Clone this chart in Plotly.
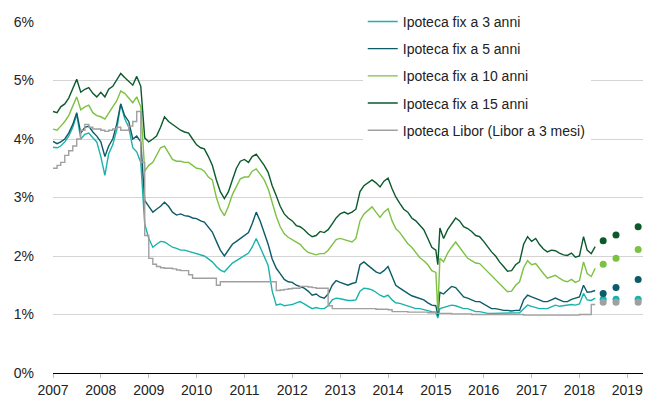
import pandas as pd
import plotly.graph_objects as go

# ---------------- data (monthly readings, plus 16 Jan 2015) ----------------
series_names = ["Ipoteca fix a 3 anni", "Ipoteca fix a 5 anni", "Ipoteca fix a 10 anni",
                "Ipoteca fix a 15 anni", "Ipoteca Libor (Libor a 3 mesi)"]

month_start = "2007-01-01"
month_end = "2018-05-01"
extra_date = "2015-01-16"

fix3 = [
    3.86, 3.85, 3.88, 3.95, 4.05, 4.20, 4.42, 4.00, 4.08, 4.10, 4.02, 3.95,
    3.70, 3.38, 3.75, 3.90, 4.15, 4.60, 4.35, 4.20, 3.85, 3.78, 3.60, 2.55,
    2.30, 2.15, 2.20, 2.25, 2.24, 2.20, 2.15, 2.13, 2.10, 2.10, 2.08, 2.07,
    2.05, 2.02, 2.00, 1.95, 1.90, 1.82, 1.76, 1.73, 1.80, 1.88, 1.92, 1.96,
    2.00, 2.05, 2.15, 2.30, 2.15, 2.00, 1.84, 1.40, 1.16, 1.18, 1.15, 1.16,
    1.17, 1.20, 1.22, 1.18, 1.14, 1.10, 1.12, 1.10, 1.10, 1.15, 1.25, 1.28,
    1.27, 1.25, 1.24, 1.24, 1.25, 1.40, 1.45, 1.44, 1.42, 1.38, 1.33, 1.30,
    1.33, 1.25, 1.20, 1.19, 1.17, 1.15, 1.12, 1.10, 1.10, 1.08, 1.06, 1.05,
    1.04, 0.94, 1.10, 1.12, 1.15, 1.16, 1.15, 1.12, 1.10, 1.10, 1.08, 1.05, 1.05,
    1.03, 1.02, 1.02, 1.02, 1.02, 1.02, 1.02, 1.02, 1.02, 1.03, 1.10, 1.16,
    1.14, 1.12, 1.10, 1.10, 1.10, 1.13, 1.16, 1.14, 1.15, 1.16, 1.17, 1.16,
    1.18, 1.36, 1.25, 1.24, 1.28,
]
fix5 = [
    3.96, 3.92, 3.95, 4.00, 4.10, 4.25, 4.45, 4.10, 4.20, 4.22, 4.12, 4.05,
    3.95, 3.70, 3.88, 4.00, 4.25, 4.60, 4.40, 4.30, 4.00, 4.05, 3.95, 2.95,
    2.85, 2.75, 2.80, 2.85, 2.92, 2.85, 2.75, 2.70, 2.72, 2.69, 2.68, 2.65,
    2.64, 2.60, 2.58, 2.50, 2.41, 2.25, 2.10, 2.00, 2.10, 2.20, 2.25, 2.30,
    2.35, 2.40, 2.55, 2.75, 2.60, 2.40, 2.20, 1.95, 1.79, 1.70, 1.60, 1.56,
    1.55, 1.50, 1.48, 1.45, 1.40, 1.33, 1.35, 1.30, 1.28, 1.35, 1.50, 1.58,
    1.55, 1.52, 1.50, 1.53, 1.55, 1.85, 1.90, 1.84, 1.78, 1.73, 1.70, 1.75,
    1.82, 1.65, 1.50, 1.45, 1.40, 1.36, 1.32, 1.30, 1.28, 1.25, 1.20, 1.16,
    1.15, 0.98, 1.38, 1.35, 1.42, 1.48, 1.46, 1.38, 1.30, 1.28, 1.25, 1.22, 1.22,
    1.18, 1.14, 1.10, 1.10, 1.08, 1.07, 1.07, 1.06, 1.07, 1.07, 1.25, 1.33,
    1.30, 1.28, 1.25, 1.22, 1.22, 1.25, 1.28, 1.25, 1.22, 1.22, 1.26, 1.28,
    1.30, 1.50, 1.38, 1.39, 1.41,
]
fix10 = [
    4.17, 4.15, 4.22, 4.30, 4.40, 4.55, 4.72, 4.50, 4.55, 4.58, 4.45, 4.40,
    4.38, 4.34, 4.45, 4.55, 4.65, 4.82, 4.78, 4.70, 4.62, 4.72, 4.55, 3.45,
    3.55, 3.60, 3.72, 3.85, 3.88, 3.75, 3.65, 3.62, 3.62, 3.60, 3.60, 3.55,
    3.50, 3.49, 3.45, 3.35, 3.30, 3.00, 2.80, 2.69, 2.85, 3.05, 3.20, 3.32,
    3.35, 3.35, 3.45, 3.49, 3.40, 3.30, 3.15, 2.90, 2.68, 2.50, 2.38, 2.32,
    2.28, 2.24, 2.20, 2.12, 2.06, 2.04, 2.02, 2.04, 2.04, 2.10, 2.20, 2.28,
    2.30, 2.28, 2.25, 2.24, 2.30, 2.60, 2.72, 2.78, 2.84, 2.75, 2.66, 2.75,
    2.81, 2.60, 2.47, 2.40, 2.30, 2.21, 2.15, 2.05, 1.97, 1.92, 1.85, 1.75,
    1.72, 1.05, 1.96, 1.90, 2.05, 2.15, 2.24, 2.15, 2.05, 1.96, 1.92, 1.88, 1.87,
    1.80, 1.72, 1.67, 1.60, 1.52, 1.45, 1.39, 1.40, 1.50, 1.56, 1.80, 1.92,
    1.85, 1.87, 1.78, 1.70, 1.62, 1.65, 1.67, 1.62, 1.58, 1.56, 1.60, 1.55,
    1.58, 1.90, 1.70, 1.65, 1.79,
]
fix15 = [
    4.47, 4.45, 4.55, 4.60, 4.70, 4.85, 5.02, 4.80, 4.85, 4.88, 4.78, 4.72,
    4.80, 4.72, 4.85, 4.90, 5.00, 5.12, 5.05, 4.98, 4.92, 5.07, 4.90, 4.02,
    3.95, 4.00, 4.05, 4.20, 4.38, 4.30, 4.25, 4.20, 4.15, 4.12, 4.10, 4.00,
    3.90, 3.85, 3.83, 3.70, 3.55, 3.30, 3.10, 2.98, 3.10, 3.30, 3.50, 3.62,
    3.65, 3.60, 3.70, 3.74, 3.65, 3.55, 3.43, 3.20, 3.03, 2.85, 2.72, 2.65,
    2.60, 2.52, 2.50, 2.45, 2.38, 2.33, 2.35, 2.42, 2.40, 2.45, 2.55, 2.65,
    2.72, 2.75, 2.72, 2.75, 2.80, 3.10, 3.20, 3.25, 3.30, 3.25, 3.18, 3.28,
    3.33, 3.15, 3.01, 2.90, 2.80, 2.75, 2.65, 2.60, 2.52, 2.45, 2.30, 2.15,
    2.10, 1.85, 2.48, 2.30, 2.45, 2.55, 2.65, 2.60, 2.50, 2.47, 2.42, 2.35, 2.33,
    2.25, 2.15, 2.07, 2.00, 1.90, 1.82, 1.74, 1.75, 1.85, 1.90, 2.20, 2.33,
    2.25, 2.30, 2.20, 2.12, 2.07, 2.10, 2.09, 2.05, 2.02, 2.01, 2.05, 1.98,
    2.00, 2.33, 2.10, 2.04, 2.16,
]
libor = [
    3.50, 3.55, 3.60, 3.72, 3.80, 3.88, 4.00, 4.15, 4.25, 4.20, 4.17, 4.17,
    4.15, 4.13, 4.15, 4.17, 4.20, 4.15, 4.15, 4.22, 4.30, 4.47, 3.60, 2.35,
    1.96, 1.86, 1.82, 1.80, 1.79, 1.79, 1.78, 1.76, 1.75, 1.75, 1.68, 1.62,
    1.62, 1.62, 1.62, 1.62, 1.62, 1.50, 1.56, 1.56, 1.56, 1.56, 1.56, 1.56,
    1.56, 1.56, 1.56, 1.56, 1.56, 1.56, 1.56, 1.56, 1.41, 1.42, 1.43, 1.44,
    1.45, 1.45, 1.48, 1.48, 1.47, 1.46, 1.45, 1.45, 1.45, 1.15, 1.10, 1.10,
    1.10, 1.10, 1.10, 1.10, 1.10, 1.10, 1.10, 1.10, 1.10, 1.09, 1.09, 1.09,
    1.08, 1.05, 1.05, 1.05, 1.05, 1.04, 1.04, 1.04, 1.04, 1.04, 1.03, 1.03,
    1.02, 1.02, 1.02, 1.02, 1.02, 1.01, 1.01, 1.01, 1.01, 1.01, 1.00, 1.00, 1.00,
    1.00, 1.00, 1.00, 1.00, 1.00, 1.00, 1.00, 1.00, 1.00, 1.00, 0.99, 0.99,
    0.99, 0.99, 0.99, 0.99, 0.99, 0.99, 0.99, 0.99, 0.99, 0.99, 0.99, 0.99,
    1.00, 1.00, 1.00, 1.17, 1.17,
]

forecast_dates = ["2018-07-01", "2018-10-07", "2019-03-25"]
fc3 = [1.26, 1.26, 1.26]
fc5 = [1.36, 1.46, 1.60]
fc10 = [1.86, 1.96, 2.11]
fc15 = [2.26, 2.36, 2.50]
fc_libor = [1.21, 1.21, 1.21]

colors = ["#19b3ab", "#0b5c68", "#7dc142", "#0a5a2c", "#a0a0a0"]

x_ticks = [str(y) for y in range(2007, 2020)]
y_ticks = [0, 1, 2, 3, 4, 5, 6]
y_labels = ["0%", "1%", "2%", "3%", "4%", "5%", "6%"]

# ---------------- build ----------------
dates = list(pd.date_range(month_start, month_end, freq="MS"))
dates.insert(97, pd.Timestamp(extra_date))

values = [fix3, fix5, fix10, fix15, libor]
forecasts = [fc3, fc5, fc10, fc15, fc_libor]

fig = go.Figure()
for i, (name, vals, col) in enumerate(zip(series_names, values, colors)):
    fig.add_trace(go.Scatter(
        x=dates, y=vals, mode="lines", name=name,
        line=dict(color=col, width=1.4, shape="hv" if i == 4 else "linear"),
        legendgroup=f"g{i}",
    ))
for i, (fc, col) in enumerate(zip(forecasts, colors)):
    fig.add_trace(go.Scatter(
        x=forecast_dates, y=fc, mode="markers", showlegend=False,
        marker=dict(color=col, size=7), legendgroup=f"g{i}",
    ))

font_family = "Liberation Sans, Arial, sans-serif"
fig.update_layout(
    width=648, height=403,
    margin=dict(l=53, r=5, t=22, b=28),
    paper_bgcolor="white", plot_bgcolor="white",
    font=dict(family=font_family, size=14, color="#222222"),
    showlegend=True,
    legend=dict(
        x=0.525, y=1.046, xanchor="left", yanchor="top",
        bgcolor="white", borderwidth=0,
        font=dict(family=font_family, size=14, color="#222222"),
        tracegroupgap=6, itemwidth=30,
    ),
    xaxis=dict(
        type="date",
        range=["2007-01-01", "2019-05-01"],
        tickvals=[f"{y}-01-01" for y in x_ticks],
        ticktext=x_ticks,
        ticks="outside", ticklen=4, tickcolor="#bbbbbb",
        showline=True, linecolor="#000000", linewidth=1,
        showgrid=False, zeroline=False,
        tickfont=dict(size=14, color="#222222"),
    ),
    yaxis=dict(
        range=[0, 6],
        tickvals=y_ticks, ticktext=y_labels,
        showgrid=True, gridcolor="#d4d4d4", gridwidth=1,
        zeroline=False, showline=False, ticks="",
        ticklabelstandoff=18,
        tickfont=dict(size=14, color="#222222"),
    ),
)

fig.write_html("out.html",
               config={"displayModeBar": False},
               post_script="document.body.style.margin='0';document.body.style.overflow='hidden';")
